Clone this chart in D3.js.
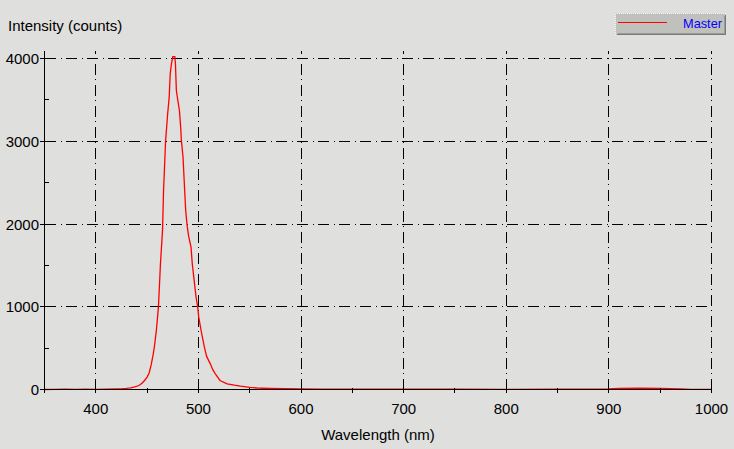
<!DOCTYPE html>
<html>
<head>
<meta charset="utf-8">
<script src="https://cdn.jsdelivr.net/npm/d3@7"></script>
<style>
  html, body { margin: 0; padding: 0; background: #dfdfdd; }
  svg { display: block; }
  text { font-family: "Liberation Sans", Arial, sans-serif; }
</style>
</head>
<body>
<svg id="chart" width="734" height="449"></svg>
<script>
// ---- data ----
const wavelengths = [350, 360, 370, 380, 390, 400, 410, 420, 425, 430, 434, 438, 442, 445, 447.5, 450, 452, 454, 456, 457, 459, 460, 461, 462, 463, 465, 466, 468, 470, 471.5, 472.5, 473.7, 475, 477, 477.6, 478.5, 480, 481.5, 482.7, 483.4, 485, 486.6, 487.6, 489, 490.5, 492.8, 494, 496, 497.7, 499.3, 500.3, 502.6, 505.8, 508, 511.6, 514, 516.5, 521, 528, 535, 541, 550, 557, 570, 585, 600, 620, 650, 700, 750, 800, 850, 880, 900, 910, 930, 950, 970, 980, 1000];
const intensity = [0, 2, 5, 1, 3, 2, 4, 6, 8, 14, 20, 32, 48, 75, 109, 150, 200, 300, 430, 510, 713, 850, 995, 1250, 1520, 1920, 2400, 3000, 3330, 3530, 3815, 3936, 4024, 4024, 3936, 3613, 3490, 3370, 3170, 3009, 2807, 2405, 2163, 1980, 1850, 1720, 1520, 1300, 1115, 995, 874, 713, 511, 400, 310, 240, 190, 109, 69, 52, 40, 25, 18, 12, 9, 7, 5, 4, 3, 3, 2, 3, 5, 6, 14, 16, 12, 6, 2, 1];
const xTicks = [400, 500, 600, 700, 800, 900, 1000];
const xMinorTicks = [350, 450, 550, 650, 750, 850, 950];
const yTicks = [0, 1000, 2000, 3000, 4000];
const yMinorTicks = [500, 1500, 2500, 3500];
const seriesName = "Master";

// ---- layout ----
const svg = d3.select("#chart");
const x = d3.scaleLinear().domain([350, 1000]).range([44.5, 711.5]);
const y = d3.scaleLinear().domain([0, 4097]).range([389.5, 50.5]);
const x0 = x.range()[0], x1 = x.range()[1], yb = y.range()[0], yt = y.range()[1];
const dash = "11,5,1,4";

// grid lines (dash-dot)
svg.append("g").selectAll("line").data(xTicks).join("line")
  .attr("x1", d => Math.round(x(d) - 0.5) + 0.5).attr("x2", d => Math.round(x(d) - 0.5) + 0.5)
  .attr("y1", yb).attr("y2", yt)
  .attr("stroke", "#000").attr("stroke-width", 1).attr("stroke-dasharray", dash)
  .attr("shape-rendering", "crispEdges");
svg.append("g").selectAll("line").data(yTicks.filter(d => d > 0)).join("line")
  .attr("x1", x0).attr("x2", x1)
  .attr("y1", d => Math.round(y(d) - 0.5) + 0.5).attr("y2", d => Math.round(y(d) - 0.5) + 0.5)
  .attr("stroke", "#000").attr("stroke-width", 1).attr("stroke-dasharray", dash)
  .attr("shape-rendering", "crispEdges");

// data line
const line = d3.line().x((d, i) => x(wavelengths[i])).y(d => y(d));
svg.append("path").datum(intensity)
  .attr("d", line).attr("fill", "none").attr("stroke", "#ff0000")
  .attr("stroke-width", 1.3).attr("stroke-linejoin", "miter");

// axes lines
svg.append("line").attr("x1", x0).attr("x2", x1).attr("y1", yb).attr("y2", yb)
  .attr("stroke", "#000").attr("shape-rendering", "crispEdges");
svg.append("line").attr("x1", x0).attr("x2", x0).attr("y1", yb).attr("y2", yt)
  .attr("stroke", "#000").attr("shape-rendering", "crispEdges");

// x ticks (crossing the axis)
svg.append("g").selectAll("line").data(xTicks.concat(xMinorTicks)).join("line")
  .attr("x1", d => Math.round(x(d) - 0.5) + 0.5).attr("x2", d => Math.round(x(d) - 0.5) + 0.5)
  .attr("y1", yb - 2).attr("y2", yb + 3)
  .attr("stroke", "#000").attr("shape-rendering", "crispEdges");
// y ticks
svg.append("g").selectAll("line").data(yTicks).join("line")
  .attr("x1", x0 - 5).attr("x2", x0)
  .attr("y1", d => Math.round(y(d) - 0.5) + 0.5).attr("y2", d => Math.round(y(d) - 0.5) + 0.5)
  .attr("stroke", "#000").attr("shape-rendering", "crispEdges");
svg.append("g").selectAll("line").data(yMinorTicks).join("line")
  .attr("x1", x0).attr("x2", x0 + 4)
  .attr("y1", d => Math.round(y(d) - 0.5) + 0.5).attr("y2", d => Math.round(y(d) - 0.5) + 0.5)
  .attr("stroke", "#000").attr("shape-rendering", "crispEdges");

// tick labels
svg.append("g").selectAll("text").data(xTicks).join("text")
  .attr("x", d => x(d)).attr("y", 413.5).attr("text-anchor", "middle")
  .attr("font-size", 15).attr("fill", "#000").text(d => d);
svg.append("g").selectAll("text").data(yTicks).join("text")
  .attr("x", 39).attr("y", d => y(d) + 5.5).attr("text-anchor", "end")
  .attr("font-size", 15).attr("fill", "#000").text(d => d);

// axis titles
svg.append("text").attr("x", 8).attr("y", 30.5).attr("font-size", 15).attr("fill", "#000")
  .text("Intensity (counts)");
svg.append("text").attr("x", (x0 + x1) / 2).attr("y", 440).attr("text-anchor", "middle")
  .attr("font-size", 15).attr("fill", "#000").text("Wavelength (nm)");

// legend (button-like)
const lg = svg.append("g");
lg.append("rect").attr("x", 615.5).attr("y", 13.5).attr("width", 110).attr("height", 21)
  .attr("fill", "#c0c0bd").attr("stroke", "none");
lg.append("path").attr("d", "M615.5,34.5 V13.5 H725.5").attr("fill", "none")
  .attr("stroke", "#f4f4f2").attr("stroke-dasharray", "1,1").attr("shape-rendering", "crispEdges");
lg.append("path").attr("d", "M616.5,34.5 H725.5 V14.5").attr("fill", "none")
  .attr("stroke", "#7a7a78").attr("shape-rendering", "crispEdges");
lg.append("path").attr("d", "M617.5,33.5 H724.5 V15.5").attr("fill", "none")
  .attr("stroke", "#9a9a98").attr("shape-rendering", "crispEdges");
lg.append("line").attr("x1", 618).attr("x2", 667).attr("y1", 22.5).attr("y2", 22.5)
  .attr("stroke", "#ff0000").attr("stroke-width", 1).attr("shape-rendering", "crispEdges");
lg.append("text").attr("x", 683).attr("y", 27.5).attr("font-size", 13)
  .attr("textLength", 39).attr("lengthAdjust", "spacingAndGlyphs")
  .attr("fill", "#0000ff").text(seriesName);
</script>
</body>
</html>
